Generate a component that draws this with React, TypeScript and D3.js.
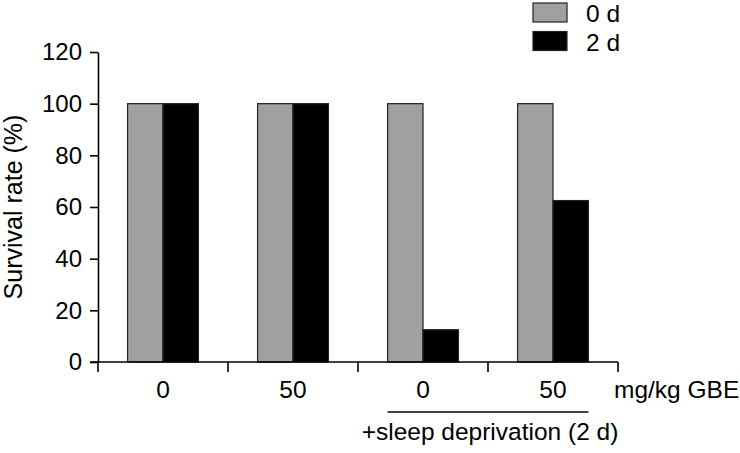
import React, { useEffect, useRef } from 'react'
import * as d3 from 'd3'

// doses along the x axis; the last two groups are under sleep deprivation
const groups = ['ctl-0', 'ctl-50', 'sd-0', 'sd-50']
const groupLabels = ['0', '50', '0', '50']
const seriesNames = ['0 d', '2 d']
const seriesColors = ['#a0a0a0', '#000000']
const survival0d = [100, 100, 100, 100]
const survival2d = [100, 100, 12.5, 62.5]
const yTicks = [0, 20, 40, 60, 80, 100, 120]

const FONT = '"Liberation Sans", Arial, Helvetica, sans-serif'

export default function App() {
  const svgRef = useRef<SVGSVGElement>(null)

  useEffect(() => {
    if (!svgRef.current) return
    const svg = d3.select(svgRef.current)
    svg.selectAll('*').remove()

    const x0 = 98
    const x1 = 618
    const yTop = 52
    const yBottom = 362

    const x = d3.scaleBand<string>().domain(groups).range([x0, x1]).paddingInner(0.455).paddingOuter(0.2275)
    const xInner = d3.scaleBand<string>().domain(seriesNames).range([0, x.bandwidth()])
    const y = d3.scaleLinear().domain([0, 120]).range([yBottom, yTop])

    const values = [survival0d, survival2d]

    // bars
    groups.forEach((g, gi) => {
      seriesNames.forEach((s, si) => {
        const v = values[si][gi]
        svg
          .append('rect')
          .attr('x', (x(g) ?? 0) + (xInner(s) ?? 0))
          .attr('y', y(v))
          .attr('width', xInner.bandwidth())
          .attr('height', yBottom - y(v))
          .attr('fill', seriesColors[si])
          .attr('stroke', '#222')
          .attr('stroke-width', 1.2)
      })
    })

    // y axis
    const yAxis = svg
      .append('g')
      .attr('transform', `translate(${x0},0)`)
      .call(d3.axisLeft(y).tickValues(yTicks).tickSize(8).tickPadding(8).tickSizeOuter(0))
    yAxis.select('.domain').attr('stroke', '#000').attr('stroke-width', 1.6)
    yAxis.selectAll('.tick line').attr('stroke', '#000').attr('stroke-width', 1.6)
    yAxis
      .selectAll('.tick text')
      .attr('fill', '#000')
      .style('font-family', FONT)
      .style('font-size', '24px')

    // x axis line, extended left to meet the 0 tick
    svg
      .append('line')
      .attr('x1', x0 - 8)
      .attr('x2', x1)
      .attr('y1', yBottom)
      .attr('y2', yBottom)
      .attr('stroke', '#000')
      .attr('stroke-width', 1.6)

    // x ticks on group boundaries
    const boundaries = groups.map((g) => (x(g) ?? 0) - (x.step() * x.paddingInner()) / 2)
    boundaries.push(x1)
    boundaries.forEach((bx) => {
      svg
        .append('line')
        .attr('x1', bx)
        .attr('x2', bx)
        .attr('y1', yBottom)
        .attr('y2', yBottom + 10)
        .attr('stroke', '#000')
        .attr('stroke-width', 1.6)
    })

    // x labels
    groups.forEach((g, gi) => {
      svg
        .append('text')
        .attr('x', (x(g) ?? 0) + x.bandwidth() / 2)
        .attr('y', 398)
        .attr('text-anchor', 'middle')
        .style('font-family', FONT)
        .style('font-size', '24.5px')
        .text(groupLabels[gi])
    })

    svg
      .append('text')
      .attr('x', 614)
      .attr('y', 398)
      .style('font-family', FONT)
      .style('font-size', '24.5px')
      .text('mg/kg GBE')

    // bracket under the sleep deprivation groups
    const sdStart = x('sd-0') ?? 0
    const sdEnd = (x('sd-50') ?? 0) + x.bandwidth()
    svg
      .append('line')
      .attr('x1', sdStart)
      .attr('x2', sdEnd)
      .attr('y1', 412)
      .attr('y2', 412)
      .attr('stroke', '#000')
      .attr('stroke-width', 1.6)

    svg
      .append('text')
      .attr('x', 490)
      .attr('y', 440)
      .attr('text-anchor', 'middle')
      .style('font-family', FONT)
      .style('font-size', '24.5px')
      .text('+sleep deprivation (2 d)')

    // y label
    svg
      .append('text')
      .attr('transform', `translate(22,${(yTop + yBottom) / 2}) rotate(-90)`)
      .attr('text-anchor', 'middle')
      .style('font-family', FONT)
      .style('font-size', '25px')
      .text('Survival rate (%)')

    // legend
    seriesNames.forEach((s, si) => {
      const base = 22 + si * 28.5
      svg
        .append('rect')
        .attr('x', 533)
        .attr('y', base - 19)
        .attr('width', 34)
        .attr('height', 19)
        .attr('fill', seriesColors[si])
        .attr('stroke', '#222')
        .attr('stroke-width', 1.2)
      svg
        .append('text')
        .attr('x', 586)
        .attr('y', base)
        .style('font-family', FONT)
        .style('font-size', '24.5px')
        .text(s)
    })
  }, [])

  return (
    <svg
      ref={svgRef}
      width={740}
      height={453}
      style={{ position: 'absolute', left: 0, top: 0, background: '#fff' }}
    />
  )
}
